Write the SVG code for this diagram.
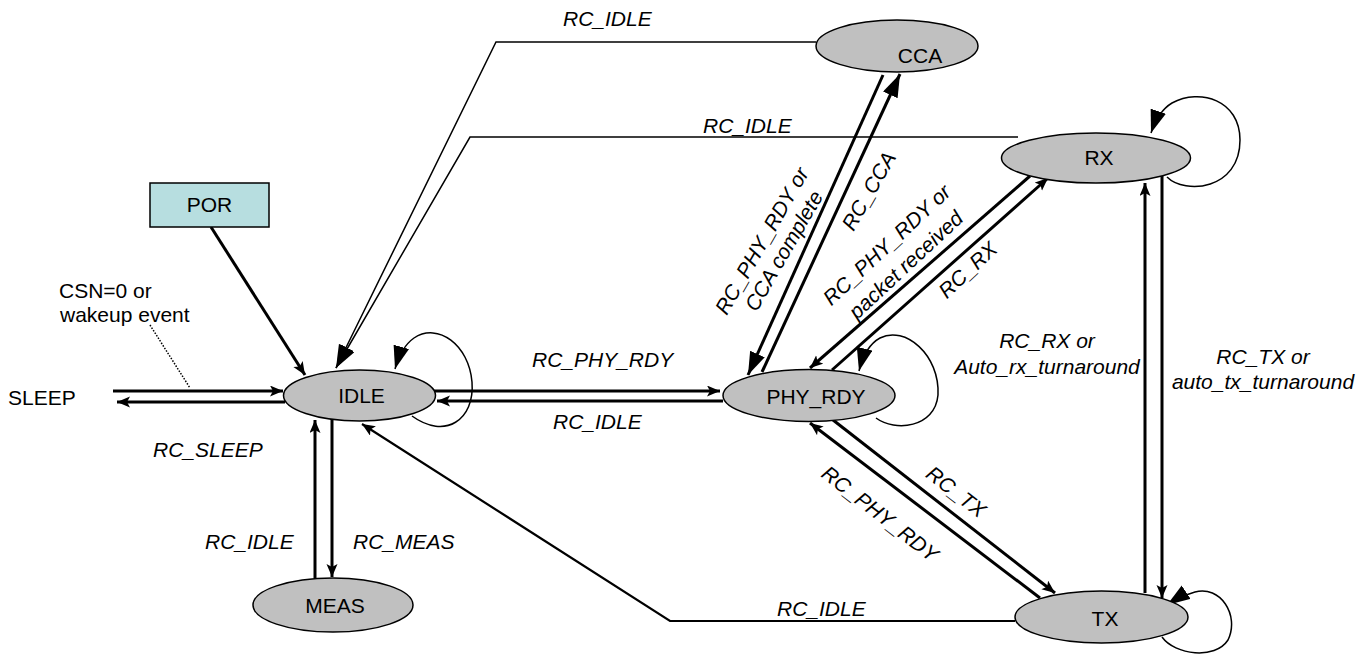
<svg xmlns="http://www.w3.org/2000/svg" width="1372" height="654" viewBox="0 0 1372 654">
<style>
text{font-family:"Liberation Sans",Arial,sans-serif;font-size:21px;fill:#000}
.lb{font-style:italic}
.node{fill:#c0c0c0;stroke:#000;stroke-width:1.5}
.thick{fill:none;stroke:#000;stroke-width:3}
.mid{fill:none;stroke:#000;stroke-width:2.2}
.thin{fill:none;stroke:#000;stroke-width:1.5}
</style>
<defs>
<marker id="sm" markerUnits="userSpaceOnUse" markerWidth="14" markerHeight="12" refX="13" refY="5.5" orient="auto"><path d="M0,0 L13,5.5 L0,11 L3,5.5 z" fill="#000"/></marker>
<marker id="big" markerUnits="userSpaceOnUse" markerWidth="24" markerHeight="17" refX="23" refY="8" orient="auto"><path d="M0,0 L23,8 L0,16 z" fill="#000"/></marker>
</defs>
<g id="connectors">
<line class="thick" x1="211" y1="227" x2="305" y2="375" marker-end="url(#sm)"/>
<line class="thick" x1="113" y1="391" x2="283" y2="391" marker-end="url(#sm)"/>
<line class="thick" x1="285" y1="402" x2="117" y2="402" marker-end="url(#sm)"/>
<line x1="150" y1="325" x2="190" y2="388" stroke="#000" stroke-width="1.5" stroke-dasharray="1.5,1.5"/>
<line class="thick" x1="434" y1="391" x2="720" y2="391" marker-end="url(#sm)"/>
<line class="thick" x1="723" y1="401" x2="437" y2="401" marker-end="url(#sm)"/>
<line class="thick" x1="332" y1="417" x2="332" y2="577" marker-end="url(#sm)"/>
<line class="thick" x1="315" y1="578" x2="315" y2="420" marker-end="url(#sm)"/>
<polyline class="thin" points="816,42 496,42 336,368" marker-end="url(#big)"/>
<polyline class="thin" points="1018,137 470,137 336,368" marker-end="url(#big)"/>
<line class="thick" x1="883" y1="75" x2="748" y2="375" marker-end="url(#big)"/>
<line class="thick" x1="762" y1="372" x2="900" y2="74" marker-end="url(#big)"/>
<line class="thick" x1="1030" y1="176" x2="810" y2="368" marker-end="url(#sm)"/>
<line class="thick" x1="832" y1="370" x2="1048" y2="178" marker-end="url(#sm)"/>
<line class="thick" x1="833" y1="420" x2="1055" y2="593" marker-end="url(#sm)"/>
<line class="thick" x1="1040" y1="598" x2="810" y2="423" marker-end="url(#sm)"/>
<line class="thick" x1="1162" y1="176" x2="1162" y2="598" marker-end="url(#sm)"/>
<line class="thick" x1="1145" y1="593" x2="1145" y2="183" marker-end="url(#sm)"/>
<polyline class="mid" points="1015,621 670,621 362,424" marker-end="url(#sm)"/>
<path class="thin" d="M412,416 C445,440 475,420 472,382 C469,345 438,322 414,338 C404,345 399,355 395,369" marker-end="url(#big)"/>
<path class="thin" d="M876,418 C895,432 935,428 938,395 C940,355 905,325 880,338 C869,344 863,355 859,371" marker-end="url(#big)"/>
<path class="thin" d="M1167,177 C1185,195 1240,190 1240,140 C1240,100 1200,88 1172,103 C1162,109 1156,118 1151,133" marker-end="url(#big)"/>
<path class="thin" d="M1162,637 C1175,655 1215,660 1228,640 C1240,615 1220,585 1195,592 C1185,595 1176,599 1167,605" marker-end="url(#big)"/>
<text class="lb" x="563" y="26">RC_IDLE</text>
<text class="lb" x="703" y="133">RC_IDLE</text>
<text class="lb" x="532" y="367">RC_PHY_RDY</text>
<text class="lb" x="553" y="429">RC_IDLE</text>
<text class="lb" x="153" y="457">RC_SLEEP</text>
<text class="lb" x="205" y="549">RC_IDLE</text>
<text class="lb" x="353" y="549">RC_MEAS</text>
<text class="lb" x="777" y="616">RC_IDLE</text>
<text x="59" y="298">CSN=0 or</text>
<text x="60" y="322">wakeup event</text>
<text class="lb" text-anchor="middle" x="1047" y="348">RC_RX or</text>
<text class="lb" text-anchor="middle" x="1047" y="374">Auto_rx_turnaround</text>
<text class="lb" text-anchor="middle" x="1263" y="364">RC_TX or</text>
<text class="lb" text-anchor="middle" x="1263" y="389">auto_tx_turnaround</text>
<text class="lb" text-anchor="middle" transform="translate(762,241) rotate(-60)" y="7">RC_PHY_RDY or</text>
<text class="lb" text-anchor="middle" transform="translate(784,251) rotate(-60)" y="7">CCA complete</text>
<text class="lb" text-anchor="middle" transform="translate(869,191) rotate(-60)" y="7">RC_CCA</text>
<text class="lb" text-anchor="middle" transform="translate(887,245) rotate(-43)" y="7">RC_PHY_RDY or</text>
<text class="lb" text-anchor="middle" transform="translate(906,265) rotate(-43)" y="7">packet received</text>
<text class="lb" text-anchor="middle" transform="translate(968,270) rotate(-43)" y="7">RC_RX</text>
<text class="lb" text-anchor="middle" transform="translate(956,492) rotate(38)" y="7">RC_TX</text>
<text class="lb" text-anchor="middle" transform="translate(880,514) rotate(38)" y="7">RC_PHY_RDY</text>
</g>
<g id="SLEEP"><text x="8" y="405">SLEEP</text></g>
<g id="POR"><rect x="150" y="183" width="119" height="44" fill="#b7dee0" stroke="#000" stroke-width="1.5"/><text x="209.5" y="212" text-anchor="middle">POR</text></g>
<g id="IDLE"><ellipse class="node" cx="359.5" cy="395.5" rx="76" ry="25.5"/><text x="361.5" y="403" text-anchor="middle">IDLE</text></g>
<g id="PHY_RDY"><ellipse class="node" cx="809" cy="395.5" rx="86" ry="26"/><text x="816" y="404" text-anchor="middle">PHY_RDY</text></g>
<g id="CCA"><ellipse class="node" cx="897" cy="46" rx="81" ry="26"/><text x="920" y="63" text-anchor="middle">CCA</text></g>
<g id="RX"><ellipse class="node" cx="1096" cy="158" rx="94.5" ry="25"/><text x="1099" y="165" text-anchor="middle">RX</text></g>
<g id="TX"><ellipse class="node" cx="1101.5" cy="617" rx="86.5" ry="26"/><text x="1105" y="626" text-anchor="middle">TX</text></g>
<g id="MEAS"><ellipse class="node" cx="333" cy="605" rx="80" ry="27"/><text x="335" y="613" text-anchor="middle">MEAS</text></g>
</svg>
